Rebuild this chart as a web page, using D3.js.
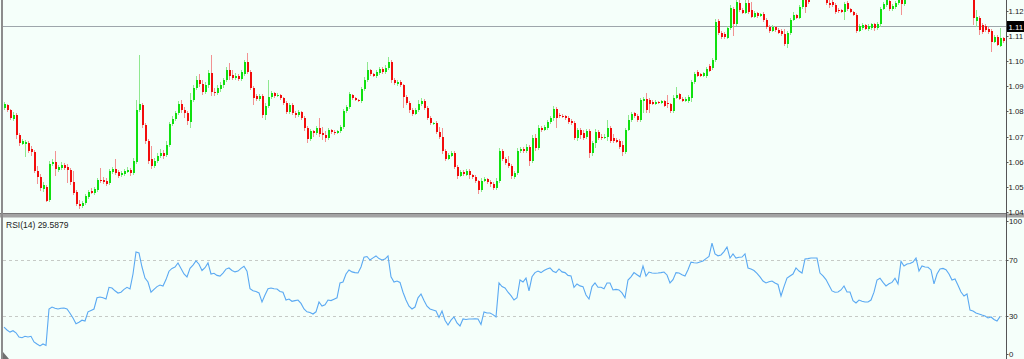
<!DOCTYPE html>
<html><head><meta charset="utf-8">
<script src="https://cdn.jsdelivr.net/npm/d3@7"></script>
<style>html,body{margin:0;padding:0;background:#f5fffa;overflow:hidden}svg{display:block}</style>
</head><body><svg id="c" width="1024" height="359"></svg>
<script>
const open=[1.0812,1.0824,1.0804,1.0768,1.0784,1.0704,1.0672,1.0672,1.0676,1.0652,
1.0640,1.0564,1.0540,1.0492,1.0500,1.0448,1.0592,1.0600,1.0568,1.0576,
1.0588,1.0580,1.0568,1.0520,1.0480,1.0432,1.0424,1.0436,1.0460,1.0484,
1.0476,1.0488,1.0528,1.0528,1.0524,1.0516,1.0560,1.0572,1.0560,1.0548,
1.0552,1.0560,1.0568,1.0556,1.0600,1.0804,1.0824,1.0744,1.0684,1.0612,
1.0584,1.0604,1.0624,1.0636,1.0628,1.0668,1.0748,1.0768,1.0792,1.0828,
1.0804,1.0792,1.0756,1.0844,1.0892,1.0924,1.0908,1.0876,1.0904,1.0952,
1.0876,1.0872,1.0888,1.0904,1.0924,1.0964,1.0944,1.0932,1.0940,1.0928,
1.0948,1.0996,1.0956,1.0892,1.0860,1.0848,1.0860,1.0784,1.0820,1.0856,
1.0872,1.0860,1.0864,1.0852,1.0832,1.0796,1.0824,1.0792,1.0784,1.0796,
1.0772,1.0732,1.0692,1.0720,1.0712,1.0732,1.0712,1.0704,1.0696,1.0724,
1.0716,1.0712,1.0720,1.0736,1.0800,1.0816,1.0864,1.0852,1.0844,1.0840,
1.0888,1.0924,1.0964,1.0948,1.0940,1.0952,1.0968,1.0956,1.0972,1.0996,
1.0924,1.0908,1.0916,1.0904,1.0856,1.0832,1.0804,1.0788,1.0804,1.0828,
1.0840,1.0812,1.0772,1.0748,1.0752,1.0716,1.0700,1.0644,1.0612,1.0624,
1.0636,1.0580,1.0544,1.0560,1.0548,1.0564,1.0548,1.0540,1.0524,1.0488,
1.0524,1.0532,1.0520,1.0512,1.0496,1.0524,1.0644,1.0612,1.0596,1.0584,
1.0540,1.0556,1.0644,1.0652,1.0644,1.0660,1.0604,1.0696,1.0656,1.0732,
1.0724,1.0732,1.0756,1.0772,1.0808,1.0784,1.0780,1.0780,1.0772,1.0760,
1.0752,1.0696,1.0724,1.0712,1.0700,1.0720,1.0636,1.0676,1.0716,1.0700,
1.0696,1.0700,1.0732,1.0696,1.0688,1.0684,1.0668,1.0640,1.0724,1.0764,
1.0792,1.0780,1.0764,1.0840,1.0848,1.0844,1.0836,1.0828,1.0836,1.0832,
1.0840,1.0832,1.0828,1.0800,1.0852,1.0868,1.0848,1.0840,1.0840,1.0852,
1.0916,1.0956,1.0948,1.0940,1.0940,1.0980,1.0972,1.1004,1.1160,1.1112,
1.1108,1.1092,1.1132,1.1208,1.1148,1.1232,1.1204,1.1192,1.1232,1.1204,
1.1176,1.1192,1.1180,1.1188,1.1164,1.1136,1.1120,1.1136,1.1124,1.1120,
1.1108,1.1068,1.1112,1.1164,1.1184,1.1172,1.1216,1.1244,1.1244,1.1252,
1.1284,1.1308,1.1284,1.1264,1.1268,1.1232,1.1236,1.1224,1.1204,1.1204,
1.1196,1.1232,1.1208,1.1196,1.1184,1.1120,1.1132,1.1144,1.1128,1.1132,
1.1148,1.1132,1.1148,1.1208,1.1224,1.1240,1.1208,1.1216,1.1232,1.1248,
1.1228,1.1256,1.1276,1.1292,1.1280,1.1304,1.1324,1.1292,1.1308,1.1300,
1.1312,1.1296,1.1264,1.1292,1.1304,1.1296,1.1292,1.1272,1.1280,1.1260,
1.1252,1.1264,1.1256,1.1252,1.1160,1.1172,1.1144,1.1140,1.1128,1.1120,
1.1076,1.1096,1.1060,1.1092];
const high=[1.0836,1.0828,1.0808,1.0796,1.0792,1.0712,1.0692,1.0688,1.0684,1.0664,
1.0648,1.0584,1.0552,1.0520,1.0508,1.0604,1.0612,1.0644,1.0588,1.0600,
1.0596,1.0592,1.0576,1.0564,1.0488,1.0448,1.0444,1.0472,1.0488,1.0496,
1.0500,1.0536,1.0576,1.0540,1.0536,1.0572,1.0580,1.0612,1.0568,1.0564,
1.0572,1.0580,1.0576,1.0616,1.0844,1.1024,1.0832,1.0752,1.0692,1.0664,
1.0616,1.0636,1.0652,1.0648,1.0684,1.0756,1.0780,1.0800,1.0840,1.0844,
1.0816,1.0800,1.0872,1.0904,1.0940,1.0948,1.0924,1.0916,1.0964,1.1024,
1.0892,1.0904,1.0916,1.0932,1.0976,1.0992,1.0964,1.0952,1.0948,1.0964,
1.1004,1.1032,1.0964,1.0900,1.0868,1.0868,1.0868,1.0832,1.0924,1.0880,
1.0876,1.0872,1.0868,1.0856,1.0840,1.0832,1.0832,1.0800,1.0804,1.0800,
1.0780,1.0740,1.0728,1.0724,1.0740,1.0772,1.0736,1.0720,1.0732,1.0728,
1.0724,1.0724,1.0744,1.0808,1.0824,1.0876,1.0868,1.0856,1.0848,1.0896,
1.0936,1.0996,1.0968,1.0952,1.0964,1.0976,1.0976,1.0984,1.1016,1.1004,
1.0932,1.0924,1.0924,1.0908,1.0864,1.0840,1.0812,1.0812,1.0844,1.0852,
1.0848,1.0820,1.0780,1.0756,1.0760,1.0736,1.0732,1.0652,1.0636,1.0644,
1.0644,1.0588,1.0568,1.0568,1.0572,1.0572,1.0552,1.0548,1.0528,1.0536,
1.0540,1.0536,1.0528,1.0520,1.0536,1.0656,1.0652,1.0620,1.0624,1.0592,
1.0564,1.0656,1.0660,1.0660,1.0672,1.0668,1.0704,1.0708,1.0744,1.0740,
1.0744,1.0764,1.0780,1.0820,1.0816,1.0792,1.0788,1.0784,1.0780,1.0768,
1.0760,1.0732,1.0732,1.0724,1.0728,1.0728,1.0684,1.0728,1.0724,1.0708,
1.0708,1.0764,1.0740,1.0708,1.0696,1.0692,1.0684,1.0732,1.0784,1.0796,
1.0796,1.0788,1.0852,1.0856,1.0872,1.0852,1.0844,1.0844,1.0840,1.0844,
1.0844,1.0864,1.0832,1.0864,1.0896,1.0872,1.0856,1.0856,1.0864,1.0924,
1.0956,1.0964,1.0952,1.0956,1.0976,1.0988,1.1012,1.1168,1.1168,1.1120,
1.1116,1.1140,1.1224,1.1216,1.1260,1.1244,1.1212,1.1252,1.1256,1.1236,
1.1200,1.1196,1.1192,1.1196,1.1172,1.1144,1.1144,1.1140,1.1132,1.1128,
1.1128,1.1120,1.1172,1.1196,1.1188,1.1224,1.1256,1.1260,1.1268,1.1300,
1.1324,1.1320,1.1296,1.1292,1.1276,1.1252,1.1256,1.1232,1.1212,1.1208,
1.1236,1.1240,1.1212,1.1200,1.1192,1.1148,1.1152,1.1148,1.1148,1.1152,
1.1152,1.1156,1.1216,1.1236,1.1256,1.1248,1.1228,1.1240,1.1256,1.1260,
1.1268,1.1284,1.1304,1.1300,1.1316,1.1336,1.1332,1.1316,1.1320,1.1324,
1.1320,1.1304,1.1300,1.1316,1.1312,1.1308,1.1300,1.1292,1.1288,1.1272,
1.1276,1.1276,1.1268,1.1260,1.1204,1.1180,1.1152,1.1148,1.1136,1.1128,
1.1104,1.1104,1.1132,1.1096];
const low=[1.0804,1.0796,1.0764,1.0760,1.0692,1.0664,1.0668,1.0620,1.0636,1.0624,
1.0556,1.0512,1.0484,1.0480,1.0440,1.0440,1.0584,1.0544,1.0560,1.0568,
1.0568,1.0516,1.0508,1.0468,1.0424,1.0412,1.0416,1.0428,1.0452,1.0472,
1.0468,1.0480,1.0516,1.0512,1.0504,1.0508,1.0552,1.0548,1.0536,1.0540,
1.0544,1.0556,1.0544,1.0548,1.0592,1.0796,1.0732,1.0672,1.0592,1.0572,
1.0576,1.0596,1.0616,1.0612,1.0620,1.0660,1.0740,1.0760,1.0784,1.0792,
1.0772,1.0744,1.0732,1.0836,1.0884,1.0896,1.0864,1.0868,1.0892,1.0860,
1.0860,1.0864,1.0876,1.0892,1.0916,1.0924,1.0924,1.0924,1.0920,1.0920,
1.0940,1.0948,1.0884,1.0824,1.0840,1.0840,1.0772,1.0764,1.0812,1.0848,
1.0852,1.0856,1.0844,1.0824,1.0788,1.0788,1.0784,1.0772,1.0776,1.0764,
1.0720,1.0676,1.0684,1.0700,1.0704,1.0700,1.0688,1.0680,1.0688,1.0708,
1.0704,1.0708,1.0712,1.0728,1.0792,1.0808,1.0844,1.0840,1.0836,1.0832,
1.0880,1.0916,1.0940,1.0936,1.0932,1.0944,1.0948,1.0948,1.0964,1.0912,
1.0904,1.0900,1.0896,1.0812,1.0824,1.0792,1.0780,1.0784,1.0796,1.0820,
1.0804,1.0764,1.0744,1.0744,1.0708,1.0692,1.0632,1.0604,1.0608,1.0620,
1.0572,1.0532,1.0540,1.0544,1.0544,1.0532,1.0532,1.0516,1.0472,1.0480,
1.0520,1.0512,1.0500,1.0488,1.0488,1.0516,1.0604,1.0588,1.0576,1.0532,
1.0532,1.0548,1.0636,1.0636,1.0636,1.0584,1.0596,1.0644,1.0648,1.0716,
1.0720,1.0724,1.0748,1.0760,1.0732,1.0772,1.0772,1.0764,1.0748,1.0744,
1.0688,1.0684,1.0692,1.0688,1.0692,1.0616,1.0624,1.0656,1.0688,1.0688,
1.0692,1.0684,1.0676,1.0676,1.0676,1.0652,1.0624,1.0632,1.0720,1.0756,
1.0772,1.0756,1.0756,1.0792,1.0792,1.0792,1.0824,1.0824,1.0828,1.0828,
1.0816,1.0812,1.0792,1.0792,1.0848,1.0844,1.0836,1.0836,1.0832,1.0836,
1.0908,1.0936,1.0936,1.0936,1.0932,1.0956,1.0964,1.0996,1.1104,1.1088,
1.1088,1.1088,1.1124,1.1100,1.1140,1.1196,1.1188,1.1188,1.1188,1.1172,
1.1172,1.1172,1.1176,1.1156,1.1128,1.1112,1.1116,1.1116,1.1108,1.1100,
1.1060,1.1052,1.1104,1.1160,1.1168,1.1168,1.1208,1.1192,1.1228,1.1244,
1.1276,1.1276,1.1256,1.1252,1.1224,1.1212,1.1216,1.1188,1.1192,1.1192,
1.1164,1.1200,1.1192,1.1180,1.1112,1.1116,1.1124,1.1124,1.1120,1.1124,
1.1120,1.1124,1.1136,1.1204,1.1216,1.1200,1.1200,1.1208,1.1224,1.1184,
1.1220,1.1252,1.1268,1.1268,1.1272,1.1296,1.1284,1.1284,1.1292,1.1292,
1.1288,1.1256,1.1256,1.1284,1.1288,1.1280,1.1264,1.1264,1.1252,1.1248,
1.1248,1.1248,1.1248,1.1144,1.1136,1.1104,1.1108,1.1116,1.1108,1.1036,
1.1072,1.1060,1.1056,1.1072];
const close=[1.0828,1.0804,1.0772,1.0784,1.0704,1.0676,1.0684,1.0680,1.0644,1.0640,
1.0564,1.0540,1.0496,1.0508,1.0444,1.0592,1.0600,1.0572,1.0580,1.0588,
1.0576,1.0568,1.0520,1.0476,1.0432,1.0424,1.0436,1.0464,1.0480,1.0476,
1.0492,1.0528,1.0524,1.0520,1.0512,1.0564,1.0572,1.0556,1.0544,1.0556,
1.0564,1.0568,1.0556,1.0604,1.0804,1.0828,1.0744,1.0684,1.0604,1.0584,
1.0604,1.0624,1.0636,1.0624,1.0668,1.0748,1.0768,1.0792,1.0828,1.0804,
1.0792,1.0760,1.0844,1.0892,1.0924,1.0908,1.0876,1.0904,1.0952,1.0876,
1.0872,1.0892,1.0904,1.0924,1.0964,1.0940,1.0932,1.0940,1.0928,1.0956,
1.0996,1.0956,1.0892,1.0852,1.0848,1.0860,1.0784,1.0820,1.0856,1.0872,
1.0860,1.0864,1.0852,1.0832,1.0796,1.0824,1.0792,1.0784,1.0796,1.0772,
1.0732,1.0692,1.0720,1.0712,1.0732,1.0708,1.0704,1.0696,1.0724,1.0716,
1.0712,1.0720,1.0736,1.0800,1.0816,1.0868,1.0852,1.0844,1.0840,1.0888,
1.0924,1.0964,1.0948,1.0940,1.0956,1.0968,1.0956,1.0972,1.0996,1.0924,
1.0912,1.0916,1.0904,1.0856,1.0832,1.0804,1.0788,1.0804,1.0828,1.0840,
1.0812,1.0772,1.0752,1.0752,1.0716,1.0700,1.0644,1.0612,1.0628,1.0636,
1.0580,1.0544,1.0560,1.0552,1.0564,1.0548,1.0540,1.0524,1.0488,1.0524,
1.0532,1.0520,1.0512,1.0496,1.0524,1.0644,1.0612,1.0596,1.0584,1.0544,
1.0556,1.0644,1.0652,1.0644,1.0660,1.0604,1.0696,1.0656,1.0732,1.0724,
1.0736,1.0756,1.0772,1.0808,1.0772,1.0780,1.0776,1.0772,1.0756,1.0752,
1.0696,1.0724,1.0704,1.0696,1.0720,1.0636,1.0676,1.0716,1.0696,1.0696,
1.0700,1.0732,1.0684,1.0684,1.0680,1.0660,1.0640,1.0724,1.0764,1.0788,
1.0780,1.0764,1.0844,1.0848,1.0804,1.0828,1.0828,1.0836,1.0832,1.0840,
1.0820,1.0828,1.0800,1.0852,1.0864,1.0848,1.0840,1.0848,1.0856,1.0916,
1.0948,1.0940,1.0940,1.0952,1.0968,1.0960,1.1004,1.1156,1.1112,1.1096,
1.1096,1.1132,1.1212,1.1148,1.1236,1.1204,1.1192,1.1232,1.1196,1.1176,
1.1192,1.1180,1.1188,1.1164,1.1136,1.1120,1.1136,1.1124,1.1112,1.1108,
1.1068,1.1112,1.1164,1.1184,1.1172,1.1216,1.1244,1.1216,1.1236,1.1284,
1.1308,1.1284,1.1264,1.1276,1.1232,1.1224,1.1224,1.1196,1.1200,1.1196,
1.1228,1.1208,1.1196,1.1184,1.1120,1.1140,1.1144,1.1128,1.1140,1.1148,
1.1132,1.1148,1.1208,1.1228,1.1244,1.1208,1.1220,1.1232,1.1248,1.1228,
1.1256,1.1276,1.1292,1.1280,1.1304,1.1324,1.1292,1.1308,1.1300,1.1312,
1.1296,1.1264,1.1292,1.1304,1.1296,1.1292,1.1272,1.1280,1.1260,1.1252,
1.1264,1.1256,1.1248,1.1172,1.1176,1.1124,1.1116,1.1124,1.1116,1.1076,
1.1096,1.1064,1.1092,1.1080];
const rsi=[22,20,18.5,19.5,18,15,14.5,15.5,15,15.5,
11.5,10,8.6,10,9,35,36.4,35.5,35,35.5,
35.7,35,32,28.6,24.5,25.5,27,26.4,33,34,
35,43,43.6,43,42.1,50.5,50,48,46.4,47,
49,50.5,49.3,60,75.7,75,65,57.1,54.3,47,
49,51,52.1,51.4,56,62,64,65,67.9,64,
60,57.9,64,66.4,69.3,67,62.5,64.5,67.9,60,
60.5,59,58.5,60.7,63.5,64.3,62.5,61.5,62.1,64,
65.5,62,49.5,48,47.5,46.5,40,45,49.5,50,
49.5,49.3,47.5,47,41.4,42.1,40.5,41,41.4,39,
35,33,32.5,31.4,33,40,37.1,38,41.4,41,
42,43,53.6,54.3,60,62.9,61.5,61,60.7,65,
72,72.5,70,71.5,72.9,71,70,70.7,72.9,58,
54.3,55,54,47,41.4,37,35,36.4,43,45.7,
41,37,35,34.3,33.6,29,33.6,27,23.6,27,
29.3,25,22.9,27.9,27.5,27.9,27.9,28,27.9,24,
32.9,32.1,32.1,31,29.3,53.6,51,50,47,44.5,
41.4,43,55.7,54.3,57.1,47.9,58,61,62.1,61,
62.5,63.6,64.3,62,61,63.6,61.5,61,59,58.6,
50.5,52.9,51.5,51,45,42.1,51,53.6,50.5,50.5,
49.5,53.6,53.6,48.6,49,48.6,46.5,43,55.7,58,
61,59.5,58,65.7,58.6,61.4,60.7,60.5,60.7,61,
61.4,59.3,53.6,56,61,60.7,59.5,58.6,63,68.5,
68,67.9,68.6,69.3,71,72.5,82.1,74.3,73,73.6,
76,79.3,71.4,74.3,71.4,72,72.1,74.3,64.3,63.5,
62.5,60.5,57.9,55,53.6,54.5,55,53.6,52.5,44.3,
51,57.1,58.6,60,64.3,62.1,60.7,70.7,71,71.4,
71.4,71.4,60.7,58.6,56,52,47.9,47,47.1,48.6,
51.4,47.1,47.1,41,39.3,41.4,40.5,40,40,41.4,
47,55.7,57,54,51.5,53,54,57,52.9,69,
65.7,67.1,67.5,68.6,71.4,62.1,65.7,65,64.8,62.9,
52.9,60,63.6,64,63,60,55.7,56.4,52,47.1,
44.3,45.7,34.3,33.6,32.1,31.5,30.7,30,28.6,29.3,
27.5,26.4,29.5879];
const priceTicks=[1.04,1.05,1.06,1.07,1.08,1.09,1.10,1.11,1.12];
const rsiTicks=[0,30,70,100];
const rsiLevels=[30,70];
const rsiTitle="RSI(14) 29.5879";
const markPrice=1.1140;

const W=1024,H=359;
const plotL=3,plotR=1006.5,mainBot=213,rsiTop=218,rsiBot=358;
const N=close.length;
const svg=d3.select('#c');
const font='"Liberation Sans", Arial, sans-serif';

const x=d3.scaleLinear().domain([0,N-1]).range([4,1003]);
const yP=d3.scaleLinear().domain([1.04,1.12]).range([211.8,11]);
const yR=d3.scaleLinear().domain([0,100]).range([rsiBot,rsiTop]);

svg.append('rect').attr('width',W).attr('height',H).attr('fill','#f5fffa');
const defs=svg.append('defs');
defs.append('clipPath').attr('id','cm').append('rect').attr('x',plotL).attr('y',0).attr('width',plotR-plotL).attr('height',mainBot);
defs.append('clipPath').attr('id','cr').append('rect').attr('x',plotL).attr('y',rsiTop).attr('width',plotR-plotL).attr('height',rsiBot-rsiTop);

const main=svg.append('g').attr('clip-path','url(#cm)');
const my=Math.round(yP(markPrice))+0.5;
main.append('line').attr('x1',plotL).attr('x2',plotR).attr('y1',my).attr('y2',my)
  .attr('stroke','#9ea6ab').attr('stroke-width',1);

const idx=d3.range(N);
const up=i=>close[i]>=open[i];
main.append('g').attr('shape-rendering','crispEdges').selectAll('line').data(idx).join('line')
  .attr('x1',i=>Math.round(x(i))+0.5).attr('x2',i=>Math.round(x(i))+0.5)
  .attr('y1',i=>yP(high[i])).attr('y2',i=>yP(low[i]))
  .attr('stroke',i=>up(i)?'#8fe88f':'#f29292').attr('stroke-width',1);
main.append('g').attr('shape-rendering','crispEdges').selectAll('rect').data(idx).join('rect')
  .attr('x',i=>Math.round(x(i))-0.5).attr('width',2)
  .attr('y',i=>yP(Math.max(open[i],close[i])))
  .attr('height',i=>Math.max(1,yP(Math.min(open[i],close[i]))-yP(Math.max(open[i],close[i]))))
  .attr('fill',i=>up(i)?'#10e010':'#f20c0c');

// RSI panel
const rg=svg.append('g').attr('clip-path','url(#cr)');
rg.selectAll('line.lv').data(rsiLevels).join('line').attr('class','lv')
  .attr('x1',plotL).attr('x2',plotR).attr('y1',d=>Math.round(yR(d))+0.5).attr('y2',d=>Math.round(yR(d))+0.5)
  .attr('stroke','#c6cac6').attr('stroke-dasharray','3,3');
rg.append('path').datum(idx)
  .attr('d',d3.line().x(i=>x(i)).y(i=>yR(rsi[i])))
  .attr('fill','none').attr('stroke','#5aa9f2').attr('stroke-width',1.1);

svg.append('text').attr('x',6).attr('y',228).attr('font-family',font).attr('font-size',8.5)
  .attr('fill','#222').text(rsiTitle);

// separators and borders
svg.append('rect').attr('x',0).attr('y',mainBot+0.5).attr('width',W).attr('height',4).attr('fill','#a3a3a3');
svg.append('line').attr('x1',0).attr('x2',plotR).attr('y1',mainBot+0.5).attr('y2',mainBot+0.5).attr('stroke','#777');
svg.append('rect').attr('x',1).attr('y',0).attr('width',2).attr('height',H).attr('fill','#8c8c8c');
svg.append('line').attr('x1',plotR).attr('x2',plotR).attr('y1',0).attr('y2',H).attr('stroke','#555');
svg.append('polygon').attr('points','3,352 3,359 9,359').attr('fill','#707070');

// price axis
const pa=svg.append('g');
pa.selectAll('line').data(priceTicks).join('line')
  .attr('x1',plotR).attr('x2',plotR+2).attr('y1',d=>Math.round(yP(d))+0.5).attr('y2',d=>Math.round(yP(d))+0.5)
  .attr('stroke','#555');
pa.selectAll('text').data(priceTicks).join('text')
  .attr('x',1008.5).attr('y',d=>yP(d)+3).attr('font-family',font).attr('font-size',7.8).attr('fill','#222')
  .text(d=>d.toFixed(2));
svg.append('rect').attr('x',1007).attr('y',my-5.5).attr('width',17).attr('height',11).attr('fill','#000');
svg.append('text').attr('x',1008.5).attr('y',my+3).attr('font-family',font).attr('font-size',7.8).attr('fill','#fff')
  .text(markPrice.toFixed(2));

// rsi axis
const ra=svg.append('g');
const rY=d=>Math.min(rsiBot-4.5,Math.max(rsiTop+3,yR(d)));
ra.selectAll('line').data(rsiTicks).join('line')
  .attr('x1',plotR).attr('x2',plotR+2).attr('y1',d=>Math.round(rY(d))+0.5).attr('y2',d=>Math.round(rY(d))+0.5)
  .attr('stroke','#555');
ra.selectAll('text').data(rsiTicks).join('text')
  .attr('x',1009).attr('y',d=>rY(d)+3).attr('font-family',font).attr('font-size',7.8).attr('fill','#222')
  .text(d=>String(d));
</script></body></html>
